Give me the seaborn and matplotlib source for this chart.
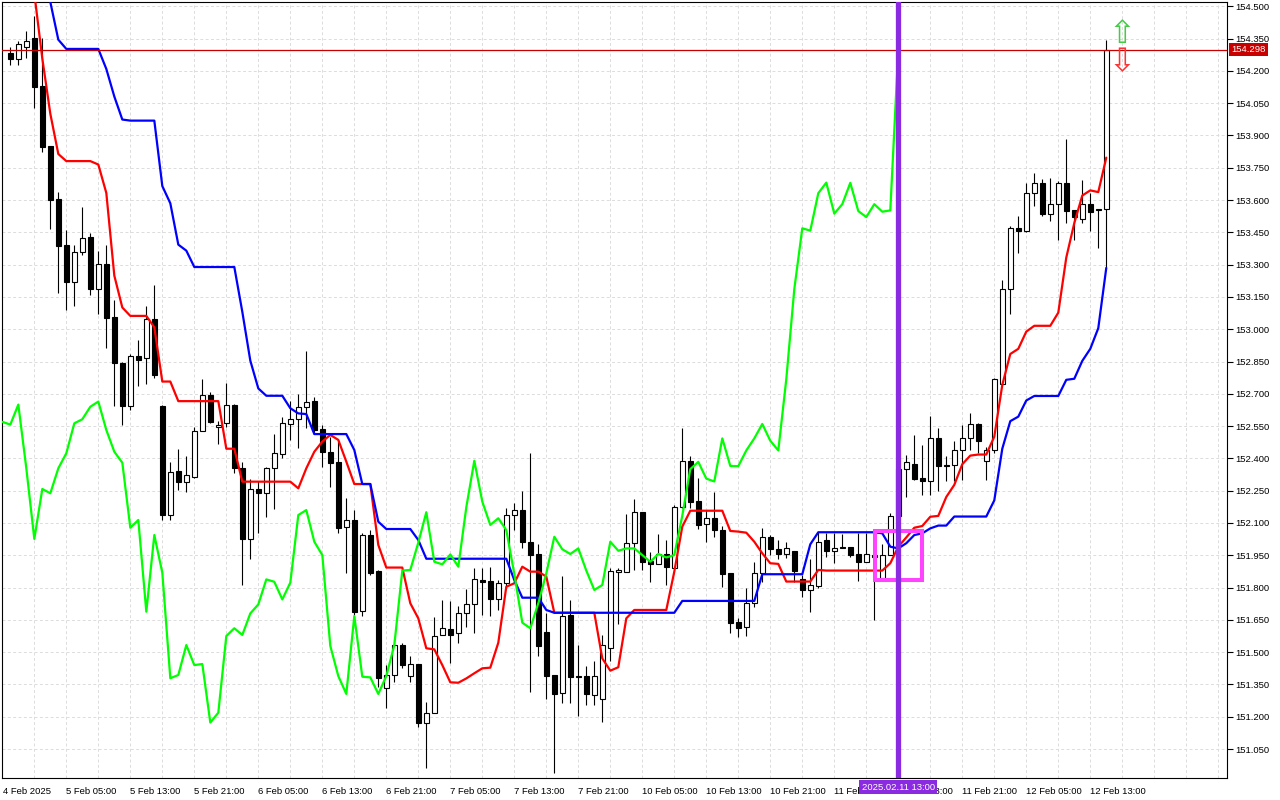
import numpy as np
import pandas as pd
import matplotlib
matplotlib.use("Agg")
import matplotlib.pyplot as plt
import matplotlib.transforms as mtransforms
from matplotlib.patches import Rectangle
import seaborn as sns

# --- USDJPY H1 candles ---
opens = [
    154.281, 154.257, 154.313, 154.353, 154.129, 153.850, 153.605, 153.391, 153.218, 153.357,
    153.429, 153.186, 153.302, 153.058, 152.842, 152.642, 152.874, 152.866, 153.046, 152.642,
    152.138, 152.341, 152.290, 152.314, 152.527, 152.693, 152.546, 152.565, 152.650, 152.354,
    152.026, 152.258, 152.238, 152.354, 152.419, 152.558, 152.582, 152.640, 152.667, 152.535,
    152.431, 152.382, 152.080, 152.114, 151.693, 152.044, 151.877, 151.332, 151.394, 151.533,
    151.389, 151.445, 151.173, 151.219, 151.580, 151.606, 151.588, 151.680, 151.722, 151.835,
    151.830, 151.745, 151.820, 152.137, 152.160, 152.013, 151.954, 151.595, 151.394, 151.309,
    151.673, 151.389, 151.389, 151.301, 151.281, 151.521, 151.874, 151.874, 152.009, 152.150,
    151.925, 151.908, 151.954, 151.889, 152.173, 152.389, 152.202, 152.094, 152.125, 152.067,
    151.866, 151.642, 151.618, 151.727, 151.866, 152.036, 151.978, 151.956, 151.971, 151.840,
    151.789, 151.809, 152.021, 151.971, 151.990, 151.987, 151.956, 151.920, 151.950, 151.843,
    151.951, 152.134, 152.349, 152.373, 152.309, 152.293, 152.493, 152.370, 152.368, 152.437,
    152.493, 152.560, 152.389, 152.437, 152.744, 153.186, 153.469, 153.458, 153.632, 153.681,
    153.533, 153.584, 153.680, 153.553, 153.514, 153.581, 153.558, 153.557,
]
highs = [
    154.313, 154.337, 154.385, 154.457, 154.353, 153.850, 153.637, 153.461, 153.391, 153.570,
    153.445, 153.365, 153.391, 153.138, 152.850, 152.885, 152.949, 153.106, 153.205, 152.650,
    152.382, 152.442, 152.410, 152.546, 152.770, 152.709, 152.575, 152.750, 152.651, 152.382,
    152.303, 152.295, 152.362, 152.513, 152.591, 152.668, 152.699, 152.899, 152.684, 152.555,
    152.501, 152.486, 152.215, 152.160, 152.052, 152.067, 151.882, 151.440, 151.560, 151.541,
    151.482, 151.445, 151.270, 151.665, 151.742, 151.738, 151.716, 151.793, 151.889, 151.889,
    151.897, 151.835, 152.168, 152.191, 152.249, 152.427, 152.002, 151.680, 151.394, 151.854,
    151.742, 151.533, 151.436, 151.461, 151.580, 151.889, 151.889, 152.142, 152.210, 152.150,
    151.967, 152.047, 152.021, 152.184, 152.540, 152.411, 152.307, 152.160, 152.245, 152.086,
    151.866, 151.657, 151.797, 151.920, 152.078, 152.044, 152.021, 152.013, 151.971, 151.858,
    151.931, 152.060, 152.055, 152.055, 152.047, 151.987, 152.052, 152.055, 151.960, 152.003,
    152.148, 152.380, 152.416, 152.509, 152.461, 152.597, 152.541, 152.413, 152.482, 152.557,
    152.613, 152.565, 152.453, 152.773, 153.229, 153.480, 153.525, 153.680, 153.725, 153.697,
    153.701, 153.688, 153.885, 153.553, 153.693, 153.633, 153.558, 154.343,
]
lows = [
    154.229, 154.229, 154.261, 154.029, 153.821, 153.466, 153.170, 153.090, 153.109, 153.346,
    153.157, 153.070, 152.914, 152.645, 152.554, 152.626, 152.738, 152.746, 152.775, 152.114,
    152.114, 152.255, 152.245, 152.309, 152.527, 152.565, 152.469, 152.546, 152.330, 151.812,
    151.933, 152.055, 152.129, 152.165, 152.400, 152.486, 152.450, 152.540, 152.512, 152.362,
    152.269, 152.055, 151.866, 151.668, 151.668, 151.858, 151.340, 151.242, 151.360, 151.425,
    151.363, 151.154, 150.964, 151.216, 151.580, 151.451, 151.544, 151.618, 151.591, 151.673,
    151.668, 151.696, 151.804, 152.067, 151.985, 151.317, 151.482, 151.281, 150.937, 151.265,
    151.265, 151.204, 151.255, 151.255, 151.177, 151.461, 151.629, 151.874, 151.882, 151.882,
    151.827, 151.908, 151.812, 151.889, 152.168, 152.168, 152.071, 152.013, 152.033, 151.804,
    151.591, 151.569, 151.575, 151.711, 151.827, 151.951, 151.931, 151.936, 151.827, 151.755,
    151.688, 151.797, 151.944, 151.916, 151.982, 151.941, 151.832, 151.920, 151.649, 151.843,
    151.951, 152.100, 152.221, 152.301, 152.232, 152.232, 152.248, 152.293, 152.293, 152.301,
    152.437, 152.424, 152.301, 152.424, 152.741, 153.072, 153.352, 153.453, 153.573, 153.525,
    153.504, 153.413, 153.493, 153.413, 153.493, 153.458, 153.378, 153.288,
]
closes = [
    154.257, 154.325, 154.337, 154.126, 153.846, 153.602, 153.386, 153.218, 153.357, 153.426,
    153.186, 153.302, 153.050, 152.842, 152.642, 152.874, 152.858, 153.046, 152.789, 152.138,
    152.338, 152.290, 152.322, 152.527, 152.693, 152.570, 152.557, 152.650, 152.354, 152.026,
    152.258, 152.238, 152.354, 152.424, 152.563, 152.582, 152.640, 152.664, 152.532, 152.431,
    152.380, 152.078, 152.114, 151.688, 152.044, 151.869, 151.379, 151.394, 151.533, 151.440,
    151.445, 151.173, 151.219, 151.575, 151.611, 151.580, 151.680, 151.722, 151.838, 151.827,
    151.745, 151.823, 152.137, 152.160, 152.013, 151.951, 151.529, 151.389, 151.306, 151.668,
    151.386, 151.383, 151.306, 151.389, 151.533, 151.879, 151.882, 152.009, 152.150, 151.920,
    151.908, 151.954, 151.897, 152.173, 152.389, 152.199, 152.091, 152.122, 152.067, 151.863,
    151.637, 151.611, 151.727, 151.866, 152.036, 151.978, 151.956, 151.982, 151.879, 151.789,
    151.812, 152.013, 151.971, 151.982, 151.982, 151.951, 151.920, 151.956, 151.940, 151.951,
    152.134, 152.350, 152.384, 152.306, 152.293, 152.493, 152.365, 152.364, 152.437, 152.493,
    152.560, 152.482, 152.437, 152.768, 153.186, 153.469, 153.458, 153.632, 153.681, 153.537,
    153.581, 153.680, 153.549, 153.521, 153.581, 153.546, 153.552, 154.298,
]

# Ichimoku lines as drawn (red = Tenkan-sen, blue = Kijun-sen)
nan = np.nan
tenkan = [
    nan, nan, nan, 154.560, 154.257, 154.001, 153.814, 153.781, 153.781, 153.781,
    153.781, 153.765, 153.633, 153.249, 153.101, 153.062, 153.062, 153.062, 153.009, 152.757,
    152.757, 152.666, 152.666, 152.666, 152.666, 152.666, 152.666, 152.445, 152.445, 152.292,
    152.292, 152.292, 152.292, 152.292, 152.292, 152.292, 152.261, 152.354, 152.431, 152.478,
    152.509, 152.486, 152.385, 152.281, 152.281, 152.281, 151.998, 151.893, 151.893, 151.893,
    151.727, 151.657, 151.518, 151.513, 151.440, 151.360, 151.358, 151.378, 151.402, 151.425,
    151.428, 151.544, 151.804, 151.820, 151.897, 151.874, 151.874, 151.851, 151.683, 151.683,
    151.683, 151.683, 151.683, 151.683, 151.471, 151.414, 151.430, 151.657, 151.696, 151.696,
    151.696, 151.696, 151.696, 151.874, 152.083, 152.157, 152.157, 152.157, 152.157, 152.157,
    152.063, 152.060, 152.055, 152.013, 151.959, 151.913, 151.910, 151.828, 151.828, 151.828,
    151.828, 151.882, 151.879, 151.879, 151.879, 151.879, 151.879, 151.879, 151.879, 151.879,
    151.913, 151.990, 152.033, 152.078, 152.086, 152.129, 152.133, 152.221, 152.277, 152.373,
    152.413, 152.418, 152.418, 152.501, 152.741, 152.885, 152.909, 152.989, 153.016, 153.016,
    153.016, 153.077, 153.333, 153.493, 153.621, 153.645, 153.637, 153.797,
]
kijun = [
    nan, nan, nan, nan, nan, 154.520, 154.345, 154.302, 154.302, 154.302,
    154.302, 154.302, 154.209, 154.081, 153.974, 153.969, 153.969, 153.969, 153.969, 153.665,
    153.585, 153.393, 153.365, 153.289, 153.289, 153.289, 153.289, 153.289, 153.289, 153.081,
    152.854, 152.725, 152.691, 152.691, 152.691, 152.633, 152.609, 152.606, 152.513, 152.513,
    152.513, 152.513, 152.513, 152.439, 152.281, 152.281, 152.106, 152.072, 152.072, 152.072,
    152.072, 152.021, 151.934, 151.934, 151.934, 151.934, 151.934, 151.934, 151.934, 151.934,
    151.934, 151.934, 151.934, 151.835, 151.753, 151.753, 151.753, 151.696, 151.683, 151.683,
    151.683, 151.683, 151.683, 151.683, 151.683, 151.683, 151.683, 151.683, 151.683, 151.683,
    151.683, 151.683, 151.683, 151.683, 151.738, 151.738, 151.738, 151.738, 151.738, 151.738,
    151.738, 151.738, 151.738, 151.738, 151.862, 151.862, 151.862, 151.862, 151.862, 151.862,
    152.001, 152.057, 152.057, 152.057, 152.057, 152.057, 152.057, 152.057, 152.057, 152.052,
    151.990, 151.982, 152.006, 152.044, 152.052, 152.075, 152.088, 152.088, 152.130, 152.130,
    152.130, 152.130, 152.130, 152.205, 152.445, 152.573, 152.594, 152.669, 152.690, 152.690,
    152.690, 152.690, 152.765, 152.770, 152.853, 152.909, 153.005, 153.285,
]

last_price = 154.298
price_ticks = [154.500, 154.350, 154.200, 154.050, 153.900, 153.750, 153.600, 153.450,
               153.300, 153.150, 153.000, 152.850, 152.700, 152.550, 152.400, 152.250,
               152.100, 151.950, 151.800, 151.650, 151.500, 151.350, 151.200, 151.050]
time_labels = ["4 Feb 2025", "5 Feb 05:00", "5 Feb 13:00", "5 Feb 21:00", "6 Feb 05:00",
               "6 Feb 13:00", "6 Feb 21:00", "7 Feb 05:00", "7 Feb 13:00", "7 Feb 21:00",
               "10 Feb 05:00", "10 Feb 13:00", "10 Feb 21:00", "11 Feb 05:00", "11 Feb 13:00",
               "11 Feb 21:00", "12 Feb 05:00", "12 Feb 13:00"]
time_label_bars = [-0.9, 7, 15, 23, 31, 39, 47, 55, 63, 71, 79, 87, 95, 103, 111, 119, 127, 135]
marked_bar = 111
marked_label = "2025.02.11 13:00"

# chikou span = close shifted 26 bars back
shift = 26

sns.set_style("white")
plt.rcParams["font.family"] = ["Liberation Sans", "DejaVu Sans"]

n = len(closes)
df = pd.DataFrame({"bar": np.arange(n), "open": opens, "high": highs, "low": lows,
                   "close": closes, "tenkan": tenkan, "kijun": kijun})
chikou = pd.DataFrame({"bar": np.arange(-1, n - shift), "value": closes[shift - 1:]})

fig = plt.figure(figsize=(12.8, 8), dpi=100)
ax = fig.add_axes([2 / 1280, 22 / 800, 1225 / 1280, 776 / 800])

# dashed grid
grid_kw = dict(color="#dcdcdc", lw=0.7, ls=(0, (3, 2.5)), zorder=0)
for gx in range(3, 153, 4):
    ax.axvline(gx, **grid_kw)
for gy in price_ticks:
    ax.axhline(gy, **grid_kw)

# candles
up = df["close"] >= df["open"]
body_bottom = np.minimum(df["open"], df["close"])
body_h = np.maximum((df["close"] - df["open"]).abs(), 0.004)
ax.vlines(df["bar"], df["low"], df["high"], color="black", lw=0.8, zorder=2)
ax.bar(df["bar"][up], body_h[up], bottom=body_bottom[up], width=0.62,
       color="white", edgecolor="black", linewidth=0.8, zorder=3)
ax.bar(df["bar"][~up], body_h[~up], bottom=body_bottom[~up], width=0.62,
       color="black", edgecolor="black", linewidth=0.8, zorder=3)

# ichimoku lines
sns.lineplot(data=df, x="bar", y="tenkan", color="#ff0000", linewidth=1.6,
             estimator=None, ax=ax, zorder=4)
sns.lineplot(data=df, x="bar", y="kijun", color="#0000ff", linewidth=1.6,
             estimator=None, ax=ax, zorder=4)
sns.lineplot(data=chikou, x="bar", y="value", color="#00ff00", linewidth=1.6,
             estimator=None, ax=ax, zorder=4)

ax.axhline(last_price, color="#c80000", lw=0.9, zorder=5)

# marked zone and vertical marker
ax.add_patch(Rectangle((108.05, 151.834), 5.95, 0.227, fill=False,
                       edgecolor="#ff44ff", linewidth=2.9, zorder=6))
ax.axvline(marked_bar, color="#8a2be2", lw=3.8, zorder=7)

# alert arrows
ax.text(139, 154.371, "\u21e7", fontsize=23, color="#44cc44", ha="center", va="center",
        family="DejaVu Sans", zorder=8)
ax.text(139, 154.237, "\u21e9", fontsize=23, color="#ff3333", ha="center", va="center",
        family="DejaVu Sans", zorder=8)

ax.set_xlim(-1.04, 152.09)
ax.set_ylim(150.9155, 154.520)
ax.set_xlabel("")
ax.set_ylabel("")

# axes
ax.yaxis.tick_right()
ax.set_yticks(price_ticks)
ax.set_yticklabels([f"{p:.3f}" for p in price_ticks])
ax.set_xticks(time_label_bars)
ax.set_xticklabels(time_labels)
for lab in ax.get_xticklabels():
    lab.set_horizontalalignment("left")
ax.tick_params(axis="y", direction="out", length=4, width=0.8, labelsize=6.8, pad=2,
               colors="black")
ax.tick_params(axis="x", direction="out", length=5, width=0.8, labelsize=6.8, pad=1.5,
               colors="black")
for s in ax.spines.values():
    s.set_visible(True)
    s.set_color("black")
    s.set_linewidth(0.8)

# price and time labels
ytrans = mtransforms.blended_transform_factory(ax.transAxes, ax.transData)
ax.text(1.0035, last_price, f"{last_price:.3f}", transform=ytrans, ha="left", va="center",
        fontsize=6.8, color="white", clip_on=False, zorder=10,
        bbox=dict(boxstyle="square,pad=0.2", fc="#c80000", ec="none"))
xtrans = mtransforms.blended_transform_factory(ax.transData, ax.transAxes)
ax.text(marked_bar, -0.006, marked_label, transform=xtrans, ha="center", va="top",
        fontsize=6.8, color="white", clip_on=False, zorder=10,
        bbox=dict(boxstyle="square,pad=0.25", fc="#8a2be2", ec="none"))

fig.savefig("out.png", dpi=100)
